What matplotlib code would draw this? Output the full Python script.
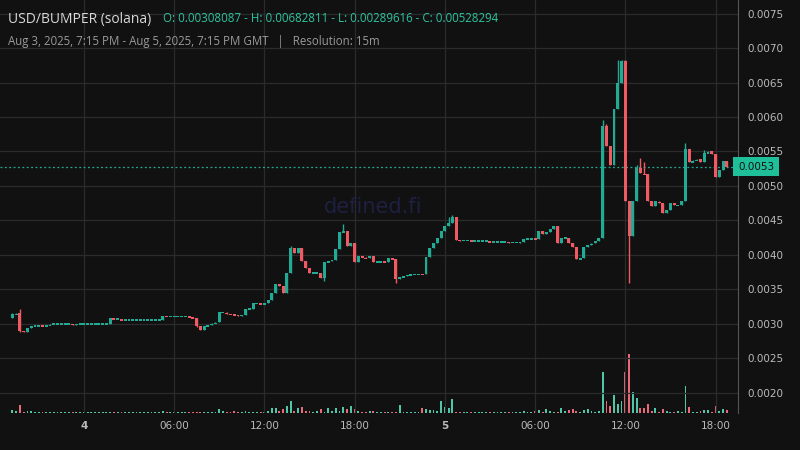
import matplotlib
matplotlib.use("Agg")
import matplotlib.pyplot as plt

closes = [0.00314,0.00316,0.00290,0.00289,0.00294,0.00297,0.00297,0.00298,0.00297,0.00298,
 0.00300,0.00300,0.00300,0.00300,0.00300,0.00300,0.00299,0.00300,0.00300,0.00300,
 0.00300,0.00300,0.00300,0.00300,0.00300,0.00300,0.00309,0.00307,0.00307,0.00306,
 0.00306,0.00306,0.00306,0.00306,0.00306,0.00306,0.00306,0.00306,0.00306,0.00306,
 0.00312,0.00311,0.00311,0.00311,0.00311,0.00311,0.00311,0.00310,0.00309,0.00297,
 0.00291,0.00297,0.00299,0.00301,0.00303,0.00317,0.00317,0.00315,0.00314,0.00313,
 0.00312,0.00313,0.00322,0.00322,0.00330,0.00330,0.00329,0.00330,0.00335,0.00345,
 0.00358,0.00355,0.00345,0.00374,0.00410,0.00403,0.00410,0.00391,0.00381,0.00374,
 0.00374,0.00374,0.00367,0.00390,0.00392,0.00393,0.00409,0.00433,0.00435,0.00413,
 0.00417,0.00390,0.00398,0.00397,0.00395,0.00399,0.00390,0.00390,0.00391,0.00390,
 0.00395,0.00394,0.00365,0.00368,0.00370,0.00371,0.00372,0.00372,0.00373,0.00372,
 0.00397,0.00410,0.00418,0.00425,0.00435,0.00442,0.00446,0.00455,0.00422,0.00421,
 0.00421,0.00421,0.00420,0.00420,0.00420,0.00420,0.00420,0.00419,0.00419,0.00419,
 0.00419,0.00419,0.00418,0.00418,0.00418,0.00419,0.00423,0.00423,0.00424,0.00423,
 0.00435,0.00431,0.00434,0.00437,0.00442,0.00417,0.00425,0.00425,0.00417,0.00412,
 0.00394,0.00395,0.00412,0.00415,0.00417,0.00420,0.00425,0.00587,0.00558,0.00530,
 0.00611,0.00650,0.00681,0.00478,0.00427,0.00478,0.00526,0.00519,0.00517,0.00478,
 0.00471,0.00478,0.00476,0.00461,0.00465,0.00475,0.00472,0.00473,0.00478,0.00554,
 0.00535,0.00537,0.00539,0.00535,0.00548,0.00550,0.00546,0.00513,0.00523,0.00536,
 0.00528]
first_open = 0.00308087
wick_highs = {0: 0.00316, 2: 0.00322, 74: 0.00413, 88: 0.00445, 116: 0.00455, 117: 0.00458,
              157: 0.00595, 158: 0.00590, 161: 0.00682, 162: 0.00683, 163: 0.00683,
              166: 0.00530, 167: 0.00540, 168: 0.00535, 179: 0.00562, 180: 0.00545, 184: 0.00552}
wick_lows = {2: 0.00289, 102: 0.00360, 164: 0.00359, 49: 0.00295, 83: 0.00362}
volumes = [5,3,14,2,4,3,2,2,2,2, 2,2,2,2,2,2,2,2,2,2, 2,2,2,2,2,2,2,2,2,2,
 2,2,2,2,2,2,2,2,2,2, 3,2,2,2,2,2,2,2,2,2, 2,2,2,2,2,6,3,2,2,3,
 2,2,4,2,2,2,2,2,4,8, 8,4,6,12,21,4,8,11,4,4, 2,4,7,2,8,4,9,3,10,6,
 12,6,3,2,2,4,3,2,2,2, 2,2,2,14,2,2,2,2,2,9, 6,5,5,3,21,11,8,24,2,2,
 2,2,2,2,2,2,2,2,2,2, 2,2,2,2,2,2,3,2,2,3, 5,2,6,3,2,2,9,4,5,7,
 4,2,5,7,4,2,3,70,20,12, 31,16,21,70,100,36,26,8,8,15, 3,8,2,6,3,2,2,3,2,45,
 10,2,2,4,5,5,2,12,4,6, 5]
day_ticks = ["4", "06:00", "12:00", "18:00", "5", "06:00", "12:00", "18:00"]
y_ticks = [0.0020,0.0025,0.0030,0.0035,0.0040,0.0045,0.0050,0.0055,0.0060,0.0065,0.0070,0.0075]

UP = "#22ab94"; DN = "#f05a63"; VUP = "#4fc6a8"; VDN = "#e7697a"
BG = "#111111"; GRID = "#2b2b2b"

fig = plt.figure(figsize=(8, 4.5), dpi=100, facecolor=BG)
ax = fig.add_axes([0, 1 - 413/450, 738/800, 413/450])
ax.set_facecolor(BG)
vax = ax.twinx()
vax.set_ylim(0, max(volumes) * 413 / 59)
vax.axis("off")
ax.set_zorder(vax.get_zorder() + 1); ax.patch.set_visible(False)
vax.patch.set_visible(True); vax.patch.set_facecolor(BG)

n = len(closes)
opens = [first_open] + closes[:-1]
for i in range(n):
    o, c = opens[i], closes[i]
    col = UP if c >= o else DN
    hi = wick_highs.get(i, max(o, c)); lo = wick_lows.get(i, min(o, c))
    ax.vlines(i, lo, hi, color=col, lw=1, zorder=3)
    h = abs(c - o)
    ax.bar(i, max(h, 0.000022), bottom=min(o, c) - (0.000011 if h < 0.000022 else 0),
           width=0.78, color=col, zorder=4, linewidth=0)
    vax.bar(i, volumes[i], width=0.5, color=VUP if c >= o else VDN, linewidth=0)

ax.set_xlim(-3.3, (738 - 12.4) / 3.76)
ax.set_ylim(0.00171, 0.0076957)
xt = [19 + 24 * k for k in range(len(day_ticks))]
ax.set_xticks(xt)
ax.set_xticklabels(day_ticks)
for lab in ax.get_xticklabels():
    if lab.get_text() in ("4", "5"):
        lab.set_fontweight("bold")
ax.set_yticks(y_ticks)
ax.set_yticklabels([f"{v:.4f}" for v in y_ticks])
ax.yaxis.tick_right()
ax.tick_params(axis="both", colors="#bbbbbb", labelsize=7.5, length=0, pad=6)
ax.tick_params(axis="y", pad=7)
ax.grid(True, color=GRID, lw=0.9)
for s in ax.spines.values():
    s.set_visible(False)
ax.spines["right"].set_visible(True); ax.spines["right"].set_color("#555555")

last = closes[-1]
ax.axhline(last, color=UP, ls=(0, (1.5, 2)), lw=0.9, zorder=2)
ax.text(1.0, last, f"{last:.4f}", transform=ax.get_yaxis_transform(), ha="left", va="center",
        fontsize=7.5, color="#111111", zorder=10, clip_on=False,
        bbox=dict(boxstyle="square,pad=0.45", fc="#1fbf9a", ec="none"))

fig.text(373/800, 1 - 207/450, "defined.fi", color="#1d2040", fontsize=15, ha="center", va="center")
fig.text(8/800, 1 - 19/450, "USD/BUMPER (solana)", color="#d8d8d8", fontsize=10, va="center",
         family="Open Sans")
fig.text(163/800, 1 - 19/450, "O: 0.00308087 - H: 0.00682811 - L: 0.00289616 - C: 0.00528294",
         color="#2ec4a0", fontsize=8.3, va="center", family="Open Sans")
fig.text(8/800, 1 - 41/450, "Aug 3, 2025, 7:15 PM - Aug 5, 2025, 7:15 PM GMT   |   Resolution: 15m",
         color="#9a9a9a", fontsize=8.3, va="center", family="Open Sans")

fig.savefig("out.png", dpi=100, facecolor=BG)
